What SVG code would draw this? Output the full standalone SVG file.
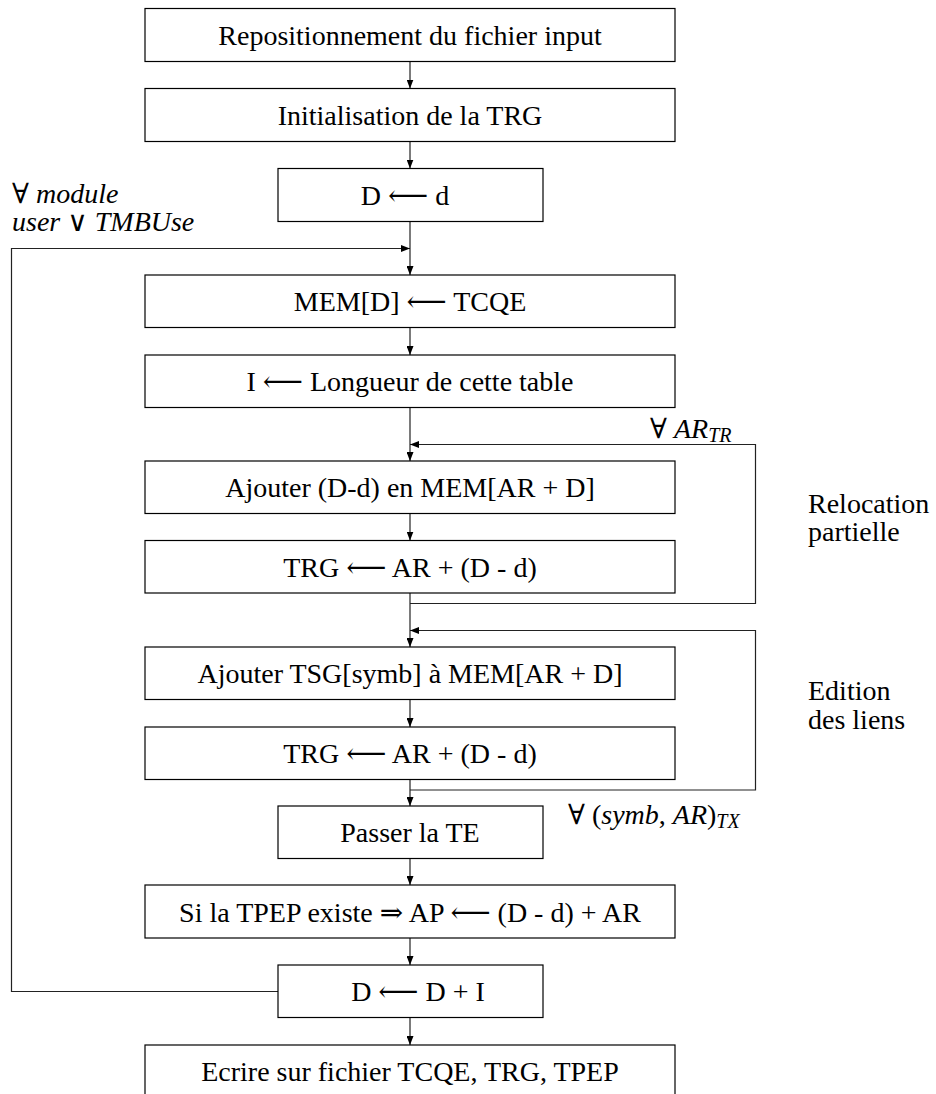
<svg xmlns="http://www.w3.org/2000/svg" width="936" height="1094" viewBox="0 0 936 1094">
<style>
.box{fill:#fff;stroke:#000;stroke-width:1.2}
.ln{fill:none;stroke:#222;stroke-width:1.2}
.t{font-family:"Liberation Serif","DejaVu Serif",serif;font-size:28px;fill:#000;text-anchor:middle}
.l{font-family:"Liberation Serif","DejaVu Serif",serif;font-size:28px;fill:#000}
.i{font-style:italic}
.sub{font-size:20px;font-style:italic}
</style>
<defs>
<marker id="ah" markerUnits="userSpaceOnUse" markerWidth="9" markerHeight="7" refX="9" refY="3.5" orient="auto">
<path d="M0,0 L9,3.5 L0,7 z" fill="#000"/>
</marker>
</defs>
<rect width="936" height="1094" fill="#fff"/>
<g id="connectors">
<line class="ln" x1="410" y1="61.5" x2="410" y2="88.5" marker-end="url(#ah)"/>
<line class="ln" x1="410" y1="141.5" x2="410" y2="168.5" marker-end="url(#ah)"/>
<line class="ln" x1="410" y1="221.5" x2="410" y2="275" marker-end="url(#ah)"/>
<line class="ln" x1="410" y1="327.5" x2="410" y2="355" marker-end="url(#ah)"/>
<line class="ln" x1="410" y1="407.5" x2="410" y2="461" marker-end="url(#ah)"/>
<line class="ln" x1="410" y1="513.5" x2="410" y2="540.5" marker-end="url(#ah)"/>
<line class="ln" x1="410" y1="593" x2="410" y2="647" marker-end="url(#ah)"/>
<line class="ln" x1="410" y1="699.5" x2="410" y2="727" marker-end="url(#ah)"/>
<line class="ln" x1="410" y1="779.5" x2="410" y2="806" marker-end="url(#ah)"/>
<line class="ln" x1="410" y1="858.5" x2="410" y2="885" marker-end="url(#ah)"/>
<line class="ln" x1="410" y1="938" x2="410" y2="965" marker-end="url(#ah)"/>
<line class="ln" x1="410" y1="1017.5" x2="410" y2="1045" marker-end="url(#ah)"/>
<path class="ln" d="M278,991.5 H11.5 V248.5 H410" marker-end="url(#ah)"/>
<path class="ln" d="M410,603.5 H755.5 V444.5 H410" marker-end="url(#ah)"/>
<path class="ln" d="M410,790 H755.5 V630.5 H410" marker-end="url(#ah)"/>
</g>
<g id="n1"><rect class="box" x="145" y="8.5" width="530" height="53"/><text class="t" x="410" y="45">Repositionnement du fichier input</text></g>
<g id="n2"><rect class="box" x="145" y="88.5" width="530" height="53"/><text class="t" x="410" y="125">Initialisation de la TRG</text></g>
<g id="n3"><rect class="box" x="278" y="168.5" width="265" height="53"/><text class="t" x="405" y="205">D ⟵ d</text></g>
<g id="n4"><rect class="box" x="145" y="275" width="530" height="52.5"/><text class="t" x="410" y="311">MEM[D] ⟵ TCQE</text></g>
<g id="n5"><rect class="box" x="145" y="355" width="530" height="52.5"/><text class="t" x="410" y="391">I ⟵ Longueur de cette table</text></g>
<g id="n6"><rect class="box" x="145" y="461" width="530" height="52.5"/><text class="t" x="410" y="497">Ajouter (D-d) en MEM[AR + D]</text></g>
<g id="n7"><rect class="box" x="145" y="540.5" width="530" height="52.5"/><text class="t" x="410" y="576.5">TRG ⟵ AR + (D - d)</text></g>
<g id="n8"><rect class="box" x="145" y="647" width="530" height="52.5"/><text class="t" x="410" y="683">Ajouter TSG[symb] à MEM[AR + D]</text></g>
<g id="n9"><rect class="box" x="145" y="727" width="530" height="52.5"/><text class="t" x="410" y="763">TRG ⟵ AR + (D - d)</text></g>
<g id="n10"><rect class="box" x="278" y="806" width="265" height="52.5"/><text class="t" x="410" y="842">Passer la TE</text></g>
<g id="n11"><rect class="box" x="145" y="885" width="530" height="53"/><text class="t" x="410" y="921.5">Si la TPEP existe ⇒ AP ⟵ (D - d) + AR</text></g>
<g id="n12"><rect class="box" x="278" y="965" width="265" height="52.5"/><text class="t" x="418" y="1001">D ⟵ D + I</text></g>
<g id="n13"><rect class="box" x="145" y="1045" width="530" height="70"/><text class="t" x="410" y="1081">Ecrire sur fichier TCQE, TRG, TPEP</text></g>
<g id="labels">
<text class="l" x="12" y="203">∀ <tspan class="i">module</tspan><tspan x="12" dy="28"><tspan class="i">user</tspan> ∨ <tspan class="i">TMBUse</tspan></tspan></text>
<text class="l" x="650" y="438">∀ <tspan class="i">AR</tspan><tspan class="sub" dy="4">TR</tspan></text>
<text class="l" x="808" y="513">Relocation<tspan x="808" dy="28">partielle</tspan></text>
<text class="l" x="808" y="700">Edition<tspan x="808" dy="29">des liens</tspan></text>
<text class="l" x="568" y="824">∀ (<tspan class="i">symb</tspan>, <tspan class="i">AR</tspan>)<tspan class="sub" dy="4">TX</tspan></text>
</g>
</svg>
